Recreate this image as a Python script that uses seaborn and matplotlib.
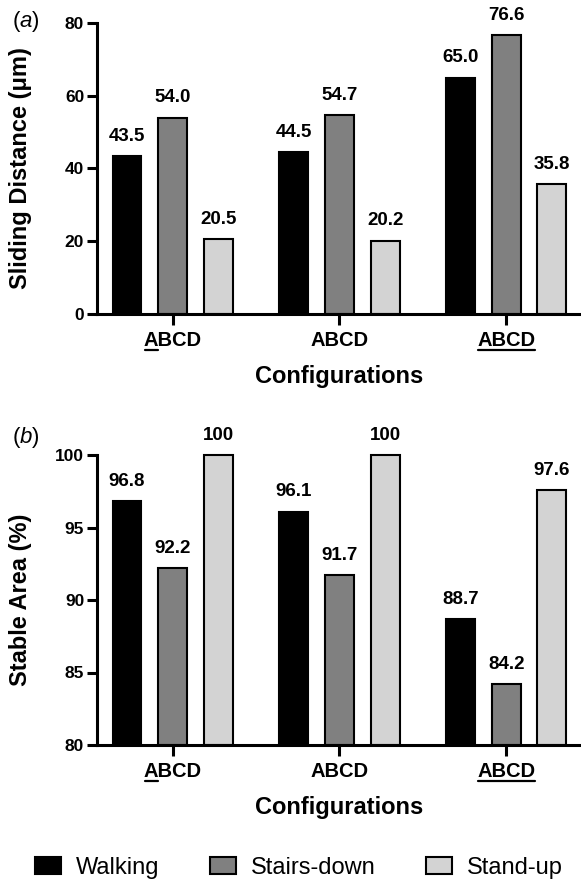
import pandas as pd
import matplotlib
matplotlib.use("Agg")
import matplotlib.pyplot as plt
from matplotlib.lines import Line2D
from matplotlib.patches import Patch
import seaborn as sns

configs = ["config1", "config2", "config3"]
tick_labels = ["ABCD", "ABCD", "ABCD"]
underline_chars = [1, 0, 4]  # leading characters underlined in each tick label
activities = ["Walking", "Stairs-down", "Stand-up"]
colors = ["#000000", "#808080", "#d3d3d3"]

sliding_walking = [43.5, 44.5, 65.0]
sliding_stairs = [54.0, 54.7, 76.6]
sliding_standup = [20.5, 20.2, 35.8]

stable_walking = [96.8, 96.1, 88.7]
stable_stairs = [92.2, 91.7, 84.2]
stable_standup = [100, 100, 97.6]


def long_table(walking, stairs, standup):
    rows = []
    for name, vals in zip(activities, [walking, stairs, standup]):
        for c, v in zip(configs, vals):
            rows.append({"config": c, "activity": name, "value": v})
    return pd.DataFrame(rows)


def fmt(v):
    if float(v).is_integer() and v >= 100:
        return f"{v:.0f}"
    return f"{v:.1f}"


sns.set_style("ticks")
plt.rcParams["font.family"] = ["Liberation Sans", "DejaVu Sans"]
plt.rcParams["mathtext.fontset"] = "custom"
plt.rcParams["mathtext.rm"] = "Liberation Sans"
plt.rcParams["mathtext.it"] = "Liberation Sans:italic"
for key in ["text.color", "axes.labelcolor", "xtick.color", "ytick.color",
            "axes.edgecolor"]:
    plt.rcParams[key] = "black"

W, H = 581, 883
fig = plt.figure(figsize=(W / 100, H / 100), dpi=100)
ax1 = fig.add_axes([97 / W, 1 - 314 / H, 484 / W, 291 / H])
ax2 = fig.add_axes([97 / W, 1 - 745 / H, 484 / W, 290 / H])

panels = [
    (ax1, long_table(sliding_walking, sliding_stairs, sliding_standup),
     "Sliding Distance (μm)", (0, 80), [0, 20, 40, 60, 80]),
    (ax2, long_table(stable_walking, stable_stairs, stable_standup),
     "Stable Area (%)", (80, 100), [80, 85, 90, 95, 100]),
]

for ax, df, ylabel, ylim, yticks in panels:
    sns.barplot(
        data=df, x="config", y="value", hue="activity",
        order=configs, hue_order=activities, palette=colors,
        saturation=1, errorbar=None, width=0.823, gap=0.37,
        edgecolor="black", linewidth=1.5, ax=ax
    )
    if ax.get_legend() is not None:
        ax.get_legend().remove()

    base = ylim[0]
    for container in ax.containers:
        if base > 0:
            for bar in container:
                h = bar.get_height()
                bar.set_y(base)
                bar.set_height(h - base)
                bar.set_clip_on(False)
        vals = container.datavalues
        anns = ax.bar_label(
            container, labels=[fmt(v) for v in vals], padding=8,
            fontsize=13.5, fontweight="bold", color="black"
        )
        for a in anns:
            a.set_annotation_clip(False)

    ax.set_ylim(*ylim)
    ax.set_yticks(yticks)
    ax.set_xlim(-0.454, 2.449)
    ax.set_xticks(range(len(configs)))
    ax.set_xticklabels(tick_labels, fontsize=14.5, fontweight="bold")
    for lab in ax.get_yticklabels():
        lab.set_fontsize(12.5)
        lab.set_fontweight("bold")

    sns.despine(ax=ax)
    for s in ["left", "bottom"]:
        ax.spines[s].set_linewidth(2.2)
    ax.tick_params(axis="y", length=7.2, width=2.2, pad=2)
    ax.tick_params(axis="x", length=8, width=2.2, pad=4)

    ax.set_ylabel(ylabel, fontsize=17, fontweight="bold")
    ax.yaxis.set_label_coords(-0.134, 0.5)
    ax.set_xlabel("Configurations", fontsize=17, fontweight="bold")
    ax.xaxis.set_label_coords(0.5, -63 / 291)
    ax.xaxis.label.set_verticalalignment("center")

fig.text(12 / W, 1 - 22 / H, r"($\mathit{a}$)", fontsize=16,
         va="center", ha="left")
fig.text(12 / W, 1 - 437 / H, r"($\mathit{b}$)", fontsize=16,
         va="center", ha="left")

handles = [Patch(facecolor=c, edgecolor="black", linewidth=1.5)
           for c in colors]
fig.legend(handles, activities, loc="center",
           bbox_to_anchor=(299 / W, 1 - 868 / H), ncol=3, frameon=False,
           fontsize=17, handlelength=1.1, handleheight=0.72,
           handletextpad=0.62, columnspacing=2.15)

# underline parts of the tick labels
fig.canvas.draw()
renderer = fig.canvas.get_renderer()
for ax in [ax1, ax2]:
    for lab, n in zip(ax.get_xticklabels(), underline_chars):
        if n == 0:
            continue
        bb = lab.get_window_extent(renderer)
        tmp = fig.text(0, 0, lab.get_text()[:n],
                       fontproperties=lab.get_fontproperties())
        w = tmp.get_window_extent(renderer).width
        tmp.remove()
        y = (bb.y0 - 0.5) / H
        fig.add_artist(Line2D([(bb.x0 + 1) / W, (bb.x0 + w) / W], [y, y],
                              transform=fig.transFigure, color="black",
                              linewidth=1.6))

fig.savefig("out.png", dpi=100)
plt.close(fig)
